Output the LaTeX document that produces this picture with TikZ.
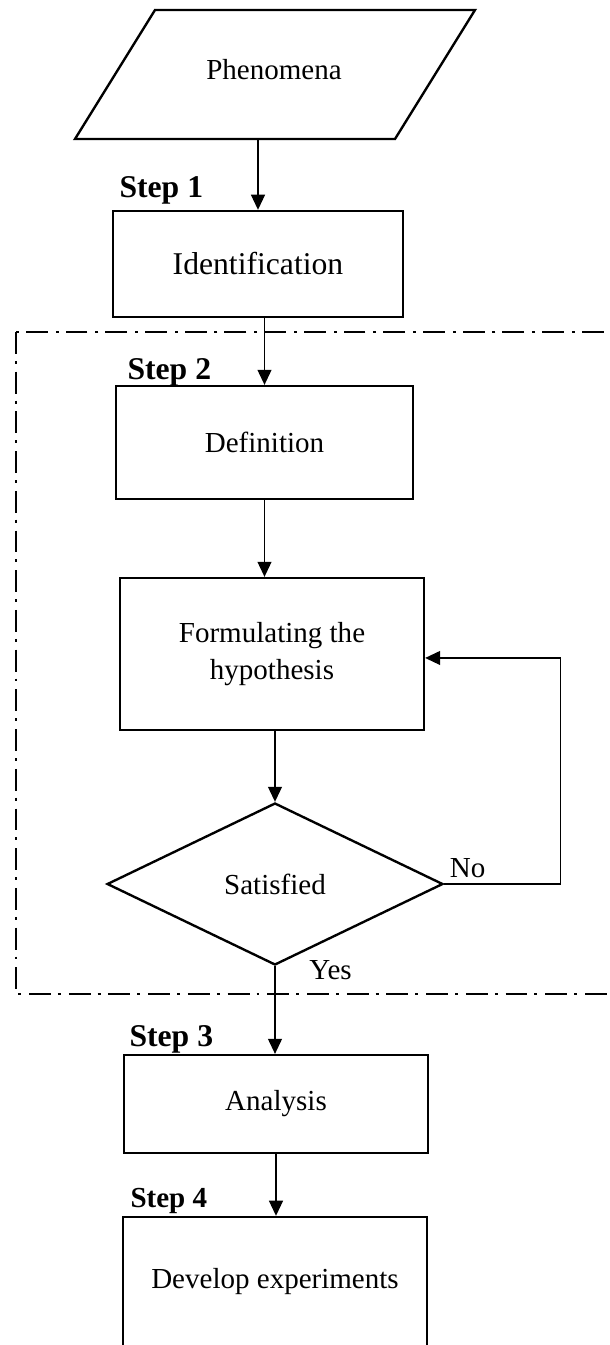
\documentclass[tikz,border=0pt]{standalone}
\usepackage{fontspec}
\setmainfont{Liberation Serif}
\usetikzlibrary{arrows.meta, shapes.geometric}

\tikzset{
  stepbox/.style={draw, line width=0.9pt, inner sep=2pt, align=center,
    font=\fontsize{11}{14}\selectfont},
  steplabel/.style={anchor=base west, inner sep=0pt, font=\fontsize{12}{14}\selectfont\bfseries},
  arr/.style={-{Triangle[width=5.3pt,length=5.7pt]}, line width=0.45pt},
  frame/.style={line width=0.75pt, dash pattern=on 8.3pt off 2.65pt on 1.1pt off 3pt}
}

\begin{document}
\begin{tikzpicture}[line cap=butt,line join=miter,x=0.379pt,y=-0.379pt]
\useasboundingbox (0,0) rectangle (609,1345);
\clip (0,0) rectangle (609,1345);

% dash-dot frame round steps 2
\draw[frame] (16,332) rectangle (720,994);

% input parallelogram
\coordinate (pbl) at (75,139);
\coordinate (pbr) at (395,139);
\coordinate (ptr) at (475,10);
\coordinate (ptl) at (155,10);
\draw[line width=0.9pt] (pbl) -- (pbr) -- (ptr) -- (ptl) -- cycle;
\node[font=\fontsize{11}{14}\selectfont] (phen) at (274,70) {Phenomena};

% the boxes
\node[stepbox, minimum width=109.9pt, minimum height=40.2pt, font=\fontsize{12}{14}\selectfont] (ident) at (258,264) {Identification};
\node[stepbox, minimum width=112.6pt, minimum height=42.8pt] (defn) at (264.5,442.5) {Definition};
\node[stepbox, minimum width=115.2pt, minimum height=57.6pt] (form) at (272,654) {Formulating the\\hypothesis};
\node[stepbox, diamond, inner sep=0pt, minimum width=127.3pt, minimum height=61.4pt] (sat) at (275,884) {Satisfied};
\node[stepbox, minimum width=115.2pt, minimum height=37.1pt] (anal) at (276,1104) {Analysis};
\node[stepbox, minimum width=115.2pt, minimum height=49.3pt] (dev) at (275,1282) {Develop experiments};

% step labels
\node[steplabel] (s1) at (119,197) {Step 1};
\node[steplabel] (s2) at (127,379) {Step 2};
\node[steplabel] (s3) at (129,1046) {Step 3};
\node[steplabel, font=\fontsize{11}{14}\selectfont\bfseries] (s4) at (130,1207) {Step 4};

% arrows
\draw[arr] (ident.north |- pbl) -- (ident.north);
\draw[arr] (ident.south -| defn.north) -- (defn.north);
\draw[arr] (defn.south) -- (defn.south |- form.north);
\draw[arr] (sat.north |- form.south) -- (sat.north);
\draw[arr] (sat.south) -- node[pos=0.04, right=9.5pt, font=\fontsize{11}{14}\selectfont] (yes) {Yes} (sat.south |- anal.north);
\draw[arr] (anal.south) -- (anal.south |- dev.north);
\draw[arr] (sat.east) -- ++(116,0) |- ([yshift=-1.5pt]form.east);
\node[above right, inner sep=2pt, font=\fontsize{11}{14}\selectfont] (no) at (sat.east) {No};
\end{tikzpicture}
\end{document}
